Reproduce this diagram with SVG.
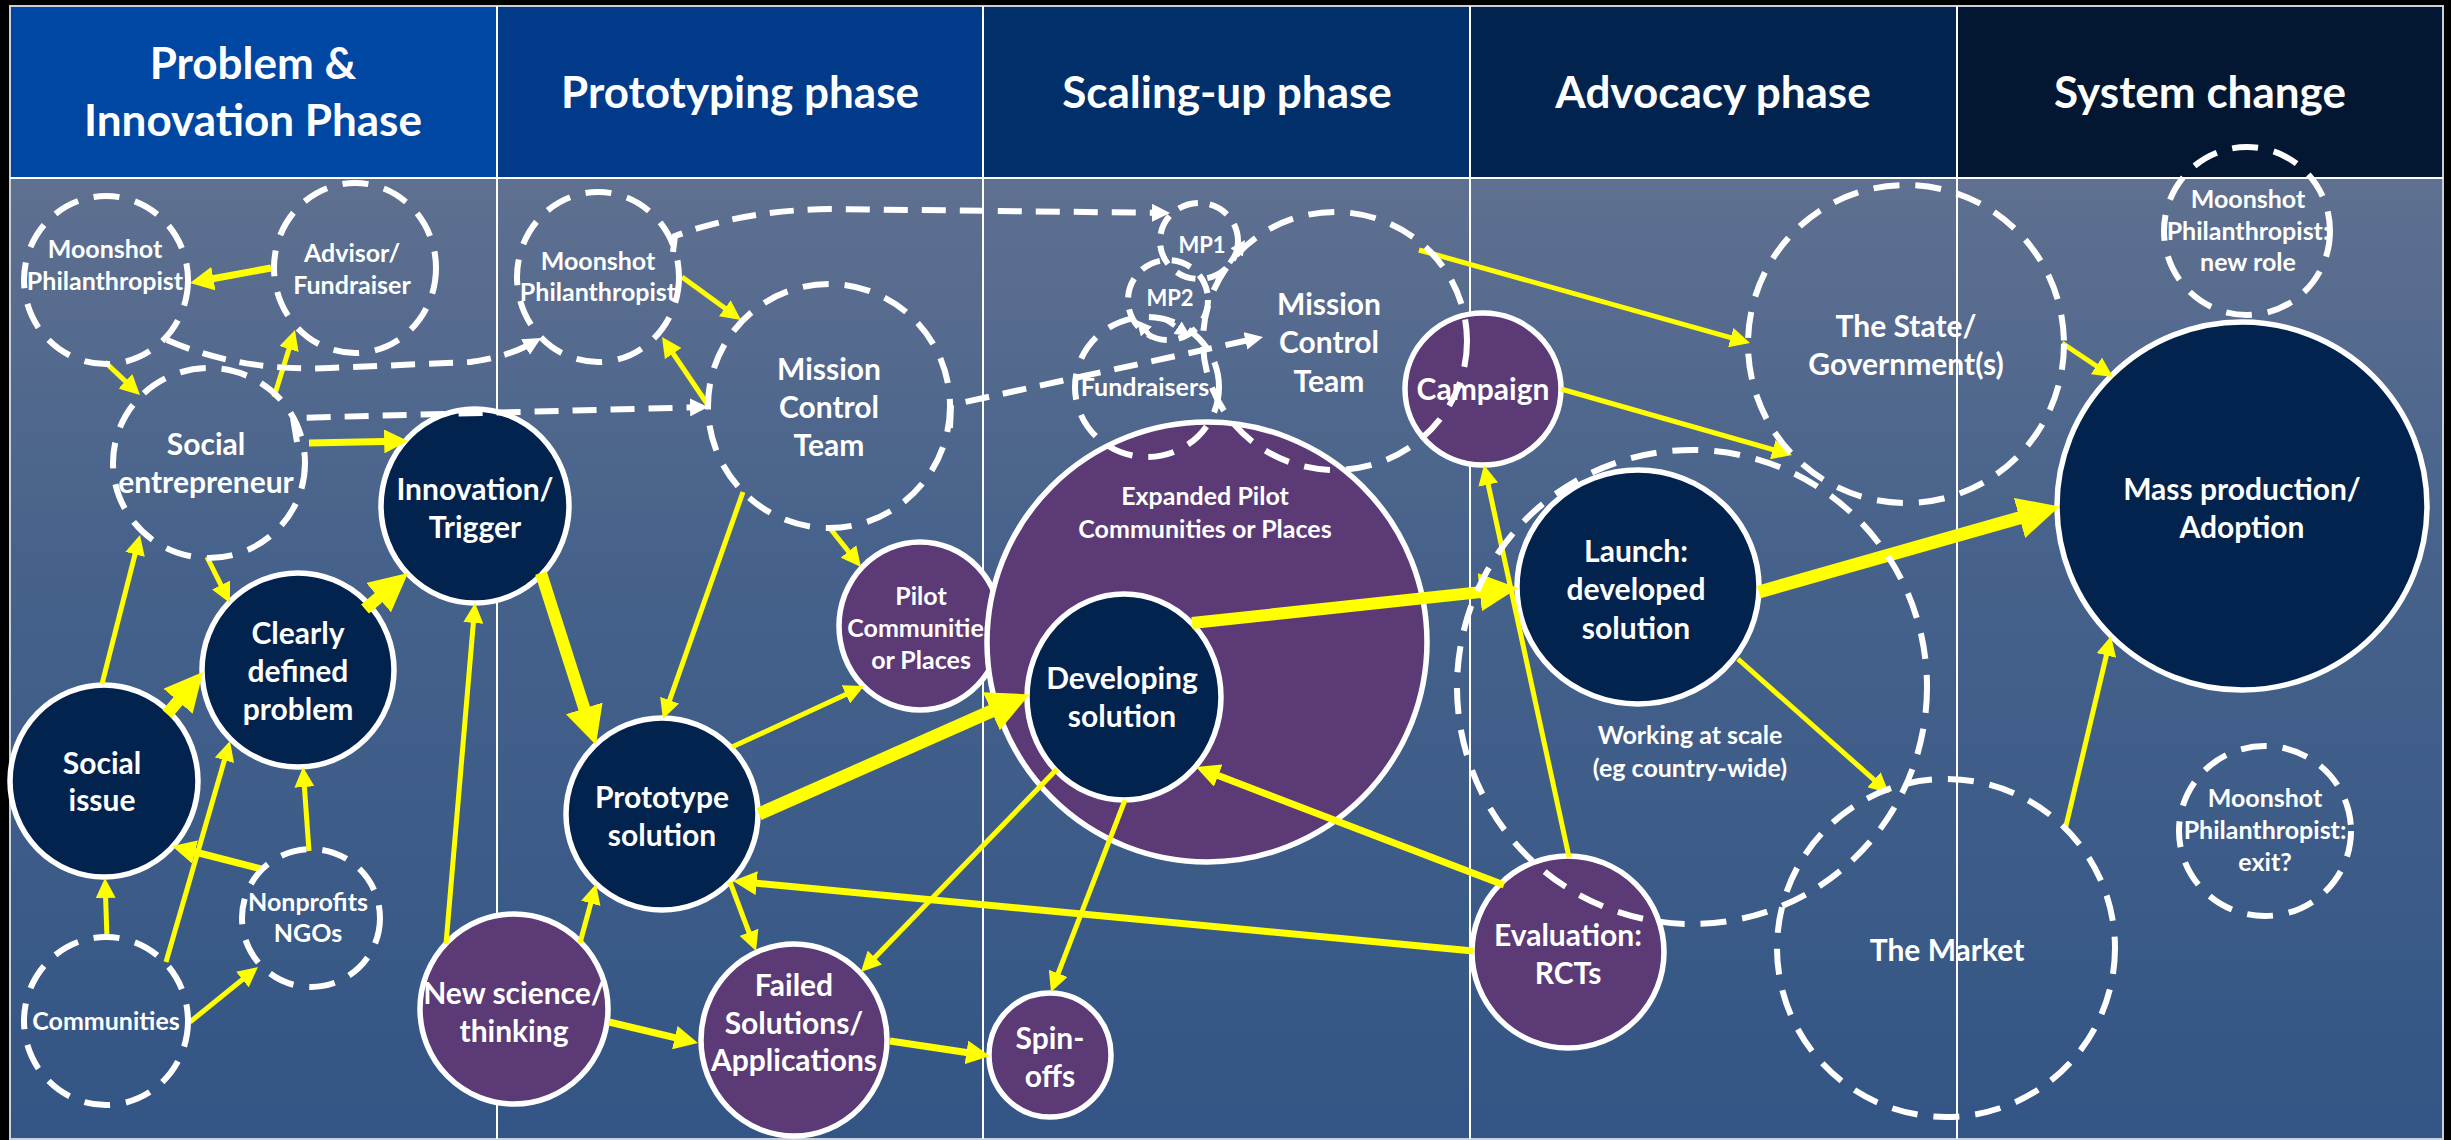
<svg xmlns="http://www.w3.org/2000/svg" width="2451" height="1140" viewBox="0 0 2451 1140">
<defs>
<linearGradient id="bodyGrad" x1="0" y1="0" x2="0" y2="1">
<stop offset="0" stop-color="#5f7090"/>
<stop offset="0.4" stop-color="#46628b"/>
<stop offset="1" stop-color="#335585"/>
</linearGradient>
<marker id="hThin" viewBox="0 0 10 10" refX="5" refY="5" markerWidth="4" markerHeight="4" orient="auto"><path d="M0,0 L10,5 L0,10 z" fill="#ffff00"/></marker>
<marker id="hMed" viewBox="0 0 10 10" refX="5" refY="5" markerWidth="3.4" markerHeight="3.4" orient="auto"><path d="M0,0 L10,5 L0,10 z" fill="#ffff00"/></marker>
<marker id="hThick" viewBox="0 0 10 10" refX="5" refY="5" markerWidth="3.2" markerHeight="3.2" orient="auto"><path d="M0,0 L10,5 L0,10 z" fill="#ffff00"/></marker>
<marker id="hWhite" viewBox="0 0 10 10" refX="5" refY="5" markerWidth="3" markerHeight="3" orient="auto"><path d="M0,0 L10,5 L0,10 z" fill="#ffffff"/></marker>
</defs>
<style>
text{font-family:Lato,"Liberation Sans",sans-serif;font-weight:bold;fill:#ffffff;text-anchor:middle}
.hd{font-size:44px}
.big{font-size:30px}
.sm{font-size:25px}
.xs{font-size:22px}
.dark{fill:#03234f;stroke:#ffffff;stroke-width:5.5}
.purple{fill:#5b3a76;stroke:#ffffff;stroke-width:5.5}
.dash{fill:none;stroke:#ffffff;stroke-width:6;stroke-dasharray:26 16}
.thin{fill:none;stroke:#ffff00;stroke-width:5;marker-end:url(#hThin)}
.med{fill:none;stroke:#ffff00;stroke-width:7;marker-end:url(#hMed)}
.thick{fill:none;stroke:#ffff00;stroke-width:12;marker-end:url(#hThick)}
.wd{fill:none;stroke:#ffffff;stroke-width:6;stroke-dasharray:24 14;marker-end:url(#hWhite)}
.wds{fill:none;stroke:#ffffff;stroke-width:5;stroke-dasharray:14 9;marker-end:url(#hWhite)}
.grid{stroke:#ffffff;stroke-width:2}
</style>

<rect x="0" y="0" width="2451" height="1140" fill="#000000"/>

<g id="frame">
<rect x="10" y="6" width="487" height="171" fill="#0047a3"/>
<rect x="497" y="6" width="486" height="171" fill="#003a88"/>
<rect x="983" y="6" width="487" height="171" fill="#002f6a"/>
<rect x="1470" y="6" width="487" height="171" fill="#03234f"/>
<rect x="1957" y="6" width="486" height="171" fill="#031733"/>
<rect x="10" y="179" width="2433" height="960" fill="url(#bodyGrad)"/>
<rect x="10" y="6" width="2433" height="1133" fill="none" stroke="#c8d0dc" stroke-width="2"/>
<line class="grid" x1="10" y1="178" x2="2443" y2="178"/>
<line class="grid" x1="497" y1="6" x2="497" y2="1139"/>
<line class="grid" x1="983" y1="6" x2="983" y2="1139"/>
<line class="grid" x1="1470" y1="6" x2="1470" y2="1139"/>
<line class="grid" x1="1957" y1="6" x2="1957" y2="1139"/>
</g>

<g id="headers">
<text class="hd" x="253" y="79">Problem &amp;</text>
<text class="hd" x="253" y="136">Innovation Phase</text>
<text class="hd" x="740" y="108">Prototyping phase</text>
<text class="hd" x="1227" y="108">Scaling-up phase</text>
<text class="hd" x="1713" y="108">Advocacy phase</text>
<text class="hd" x="2200" y="108">System change</text>
</g>

<!-- solid nodes -->
<g id="innovation"><ellipse class="dark" cx="475" cy="506" rx="94" ry="97"/><text class="big" x="475" y="500">Innovation/</text><text class="big" x="475" y="538">Trigger</text></g>
<g id="social-issue"><ellipse class="dark" cx="104" cy="781" rx="94" ry="96"/><text class="big" x="102" y="774">Social</text><text class="big" x="102" y="811">issue</text></g>
<g id="clearly-defined"><ellipse class="dark" cx="298" cy="670" rx="96" ry="97"/><text class="big" x="298" y="644">Clearly</text><text class="big" x="298" y="682">defined</text><text class="big" x="298" y="720">problem</text></g>
<g id="pilot"><ellipse class="purple" cx="920" cy="626" rx="81" ry="84"/><text class="sm" x="921" y="605">Pilot</text><text class="sm" x="921" y="637">Communities</text><text class="sm" x="921" y="669">or Places</text></g>
<g id="prototype"><ellipse class="dark" cx="662" cy="814" rx="96" ry="96"/><text class="big" x="662" y="808">Prototype</text><text class="big" x="662" y="846">solution</text></g>
<g id="new-science"><ellipse class="purple" cx="514" cy="1009" rx="94" ry="95"/><text class="big" x="514" y="1004">New science/</text><text class="big" x="514" y="1042">thinking</text></g>
<g id="failed"><ellipse class="purple" cx="794" cy="1040" rx="93" ry="96"/><text class="big" x="794" y="996">Failed</text><text class="big" x="794" y="1034">Solutions/</text><text class="big" x="794" y="1071">Applications</text></g>
<g id="expanded-pilot"><ellipse class="purple" cx="1207" cy="642" rx="220" ry="220"/><text class="sm" x="1205" y="505">Expanded Pilot</text><text class="sm" x="1205" y="538">Communities or Places</text></g>
<g id="developing"><ellipse class="dark" cx="1124" cy="697" rx="97" ry="103"/><text class="big" x="1122" y="689">Developing</text><text class="big" x="1122" y="727">solution</text></g>
<g id="spin-offs"><ellipse class="purple" cx="1050" cy="1055" rx="61" ry="62"/><text class="big" x="1050" y="1049">Spin-</text><text class="big" x="1050" y="1087">offs</text></g>
<g id="campaign"><ellipse class="purple" cx="1483" cy="389" rx="78" ry="76"/><text class="big" x="1483" y="400">Campaign</text></g>
<g id="launch"><ellipse class="dark" cx="1638" cy="587" rx="121" ry="117"/><text class="big" x="1636" y="562">Launch:</text><text class="big" x="1636" y="600">developed</text><text class="big" x="1636" y="639">solution</text></g>
<g id="evaluation"><ellipse class="purple" cx="1568" cy="952" rx="96" ry="96"/><text class="big" x="1568" y="946">Evaluation:</text><text class="big" x="1568" y="984">RCTs</text></g>
<g id="mass-production"><ellipse class="dark" cx="2242" cy="506" rx="185" ry="184"/><text class="big" x="2242" y="500">Mass production/</text><text class="big" x="2242" y="538">Adoption</text></g>

<g id="connectors">
<path class="med" d="M271,268 L201.7,280.8"/>
<path class="thin" d="M105,362 L132.7,388.1"/>
<path class="thin" d="M274,397 L292,339.5"/>
<path class="med" d="M309,443 L396.1,441.2"/>
<path class="thin" d="M682,277 L732.9,314.1"/>
<path class="thin" d="M708,405 L667.6,345.3"/>
<path class="thin" d="M829,527 L854.7,559.2"/>
<path class="thin" d="M743,492 L666.3,709.6"/>
<path class="thin" d="M102,684 L137.5,544.7"/>
<path class="thin" d="M166,962 L227.2,750.6"/>
<path class="thin" d="M207,557 L225.5,594.1"/>
<path class="thin" d="M446,944 L474.2,613"/>
<path class="thin" d="M309,851 L303.7,777"/>
<path class="med" d="M261,869 L183.5,849"/>
<path class="thin" d="M107,938 L105.3,888"/>
<path class="thin" d="M190,1022 L250.2,973.3"/>
<path class="thin" d="M580,943 L593.4,893.7"/>
<path class="med" d="M609,1022 L686.4,1040.3"/>
<path class="thin" d="M730,882 L752.5,941.6"/>
<path class="thin" d="M732,747 L854.9,690.2"/>
<path class="med" d="M1473,951 L744.8,882.1"/>
<path class="thin" d="M1057,769 L867.9,964.8"/>
<path class="med" d="M890,1041 L978.2,1054.2"/>
<path class="thin" d="M1125,800 L1054.6,982.7"/>
<path class="med" d="M1504,885 L1207.1,771.3"/>
<path class="thin" d="M1569,857 L1486.1,474.8"/>
<path class="thin" d="M1738,659 L1881.5,786.4"/>
<path class="thin" d="M2065,830 L2108.7,645.7"/>
<path class="thin" d="M2062,343 L2104.7,371.5"/>
<path class="thin" d="M1419,250 L1740.4,340.3"/>
<path class="thin" d="M1561,389 L1782.4,452.3"/>
<path class="thick" d="M167,714 L190.5,686.6"/>
<path class="thick" d="M365,609 L393.3,585.3"/>
<path class="thick" d="M541,573 L590.1,726.7"/>
<path class="thick" style="stroke-width:13" d="M759,814 L1010.4,702.8"/>
<path class="thick" d="M1192,623 L1498.9,590.1"/>
<path class="thick" style="stroke-width:13" d="M1759,592 L2039.5,512.2"/>
<path class="wd" d="M297,442 L293,418 L699,407.2"/>
<path class="wd" d="M167,340 Q240,372 330,368 L470,362 Q508,357 533.2,342.5"/>
<path class="wd" d="M673,252 L675,236 Q745,210 830,209 L1161,212.9"/>
<path class="wd" d="M950,428 L951,405 L1254.2,338.9"/>
<path class="wds" d="M1217,282 L1240.8,246.2"/>
<path class="wds" d="M1163,318 L1183.8,331.8"/>
<path class="wds" d="M1152,338 L1141.7,325.9"/>
</g>

<!-- dashed nodes -->
<g id="moonshot-1"><ellipse class="dash" cx="106" cy="280" rx="82" ry="84"/><text class="sm" x="105" y="258">Moonshot</text><text class="sm" x="105" y="290">Philanthropist</text></g>
<g id="advisor"><ellipse class="dash" cx="355" cy="268" rx="81" ry="85"/><text class="sm" x="352" y="262">Advisor/</text><text class="sm" x="352" y="294">Fundraiser</text></g>
<g id="social-entrepreneur"><ellipse class="dash" cx="209" cy="463" rx="96" ry="95"/><text class="big" x="206" y="455">Social</text><text class="big" x="206" y="493">entrepreneur</text></g>
<g id="communities"><ellipse class="dash" cx="106" cy="1021" rx="82" ry="84"/><text class="sm" x="106" y="1030">Communities</text></g>
<g id="nonprofits"><ellipse class="dash" cx="311" cy="918" rx="69" ry="69"/><text class="sm" x="308" y="911">Nonprofits</text><text class="sm" x="308" y="942">NGOs</text></g>
<g id="moonshot-2"><ellipse class="dash" cx="598" cy="277" rx="81" ry="85"/><text class="sm" x="598" y="270">Moonshot</text><text class="sm" x="598" y="301">Philanthropist</text></g>
<g id="mission-control-2"><ellipse class="dash" cx="829" cy="406" rx="121" ry="122"/><text class="big" x="829" y="380">Mission</text><text class="big" x="829" y="418">Control</text><text class="big" x="829" y="456">Team</text></g>
<g id="mp1"><ellipse class="dash" style="stroke-dasharray:20 12" cx="1199" cy="241" rx="39" ry="38"/><text class="xs" x="1202" y="253">MP1</text></g>
<g id="mp2"><ellipse class="dash" style="stroke-dasharray:20 12" cx="1168" cy="300" rx="40" ry="40"/><text class="xs" x="1170" y="306">MP2</text></g>
<g id="fundraisers"><ellipse class="dash" cx="1147" cy="387" rx="72" ry="70"/><text class="sm" x="1145" y="396">Fundraisers</text></g>
<g id="mission-control-3"><ellipse class="dash" cx="1335" cy="341" rx="132" ry="129"/><text class="big" x="1329" y="315">Mission</text><text class="big" x="1329" y="353">Control</text><text class="big" x="1329" y="392">Team</text></g>
<g id="state"><ellipse class="dash" cx="1906" cy="344" rx="158" ry="159"/><text class="big" x="1906" y="337">The State/</text><text class="big" x="1906" y="375">Government(s)</text></g>
<g id="working-at-scale"><ellipse class="dash" cx="1692" cy="687" rx="235" ry="237"/><text class="sm" x="1690" y="744">Working at scale</text><text class="sm" x="1690" y="777">(eg country-wide)</text></g>
<g id="market"><ellipse class="dash" cx="1946" cy="948" rx="169" ry="169"/><text class="big" x="1947" y="961">The Market</text></g>
<g id="moonshot-new-role"><ellipse class="dash" cx="2247" cy="231" rx="83" ry="84"/><text class="sm" x="2248" y="208">Moonshot</text><text class="sm" x="2248" y="240">Philanthropist:</text><text class="sm" x="2248" y="271">new role</text></g>
<g id="moonshot-exit"><ellipse class="dash" cx="2265" cy="831" rx="86" ry="85"/><text class="sm" x="2265" y="807">Moonshot</text><text class="sm" x="2265" y="839">Philanthropist:</text><text class="sm" x="2265" y="871">exit?</text></g>
</svg>
